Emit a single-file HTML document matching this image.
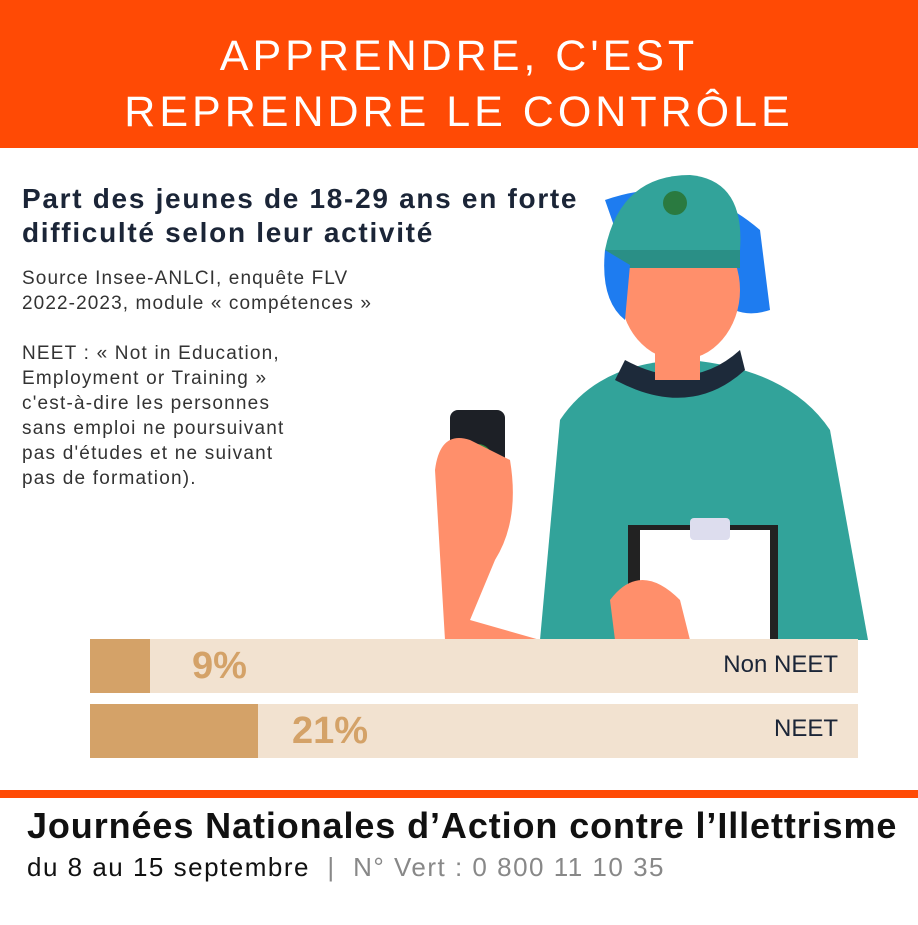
<!DOCTYPE html>
<html><head><meta charset="utf-8"><style>
body{margin:0;width:918px;height:925px;background:#fff;position:relative;overflow:hidden;font-family:"Liberation Sans",sans-serif}
.a{position:absolute}
</style></head><body>
<div class="a" style="left:0;top:0;width:918px;height:148px;background:#ff4a05"></div>
<div class="a" style="left:0;top:28px;width:918px;text-align:center;color:#fff;font-size:43px;letter-spacing:4px;line-height:56px;font-family:'Liberation Sans',sans-serif">APPRENDRE, C'EST<br>REPRENDRE LE CONTRÔLE</div>

<svg class="a" style="left:420px;top:165px" width="460" height="475" viewBox="420 165 460 475">
 <path d="M540 640 L560 420 Q600 360 690 360 Q790 370 830 430 L868 640 Z" fill="#32a39a"/>
 <path d="M615 380 Q690 420 745 370 L740 350 Q690 395 625 360 Z" fill="#1d2a3a"/>
 <path d="M605 200 Q690 170 760 230 L770 310 Q740 320 720 300 L640 300 Z" fill="#1e7cf0"/>
 <ellipse cx="680" cy="290" rx="60" ry="70" fill="#ff8f6b"/>
 <rect x="655" y="320" width="45" height="60" fill="#ff8f6b"/>
 <path d="M605 250 Q620 175 690 175 Q745 180 740 250 Z" fill="#32a39a"/>
 <path d="M605 250 L740 250 L740 268 L605 268 Z" fill="#2a8f86"/>
 <circle cx="675" cy="203" r="12" fill="#2a7a40"/>
 <path d="M605 250 Q600 300 625 320 L630 265 Z" fill="#1e7cf0"/>
 <rect x="450" y="410" width="55" height="100" rx="8" fill="#1d2026"/>
 <circle cx="478" cy="458" r="14" fill="#2f8a40"/>
 <path d="M435 470 Q440 430 470 440 L510 460 Q520 520 495 560 L470 620 L540 640 L445 640 Z" fill="#ff8f6b"/>
 <rect x="628" y="525" width="150" height="115" fill="#222"/>
 <rect x="640" y="530" width="130" height="110" fill="#fff"/>
 <rect x="690" y="518" width="40" height="22" rx="4" fill="#dde"/>
 <path d="M610 600 Q640 560 680 600 L690 640 L615 640 Z" fill="#ff8f6b"/>
</svg>

<div class="a" style="left:22px;top:182px;color:#1b2537;font-size:28px;font-weight:bold;line-height:34px;letter-spacing:1.7px;white-space:nowrap">Part des jeunes de 18-29 ans en forte<br>difficulté selon leur activité</div>
<div class="a" style="left:22px;top:266px;color:#333;font-size:19px;line-height:25px;letter-spacing:1.1px">Source Insee-ANLCI, enquête FLV<br>2022-2023, module « compétences »</div>
<div class="a" style="left:22px;top:341px;color:#333;font-size:19px;line-height:25px;letter-spacing:1.2px">NEET : « Not in Education,<br>Employment or Training »<br>c'est-à-dire les personnes<br>sans emploi ne poursuivant<br>pas d'études et ne suivant<br>pas de formation).</div>

<div class="a" style="left:90px;top:639px;width:768px;height:54px;background:#f2e2d0"></div>
<div class="a" style="left:90px;top:639px;width:60px;height:54px;background:#d4a268"></div>
<div class="a" style="left:192px;top:645px;font-size:38px;font-weight:bold;color:#d4a268">9%</div>
<div class="a" style="left:600px;top:651px;width:238px;text-align:right;font-size:24px;color:#1b2537">Non NEET</div>
<div class="a" style="left:90px;top:704px;width:768px;height:54px;background:#f2e2d0"></div>
<div class="a" style="left:90px;top:704px;width:168px;height:54px;background:#d4a268"></div>
<div class="a" style="left:292px;top:710px;font-size:38px;font-weight:bold;color:#d4a268">21%</div>
<div class="a" style="left:600px;top:715px;width:238px;text-align:right;font-size:24px;color:#1b2537">NEET</div>

<div class="a" style="left:0;top:790px;width:918px;height:8px;background:#ff4a05"></div>
<div class="a" style="left:27px;top:805px;font-size:36px;font-weight:bold;color:#111;letter-spacing:0.9px;white-space:nowrap">Journées Nationales d’Action contre l’Illettrisme</div>
<div class="a" style="left:27px;top:852px;font-size:26px;color:#111;letter-spacing:1.5px;white-space:nowrap">du 8 au 15 septembre <span style="color:#888">&nbsp;|&nbsp; N° Vert : 0 800 11 10 35</span></div>
</body></html>
